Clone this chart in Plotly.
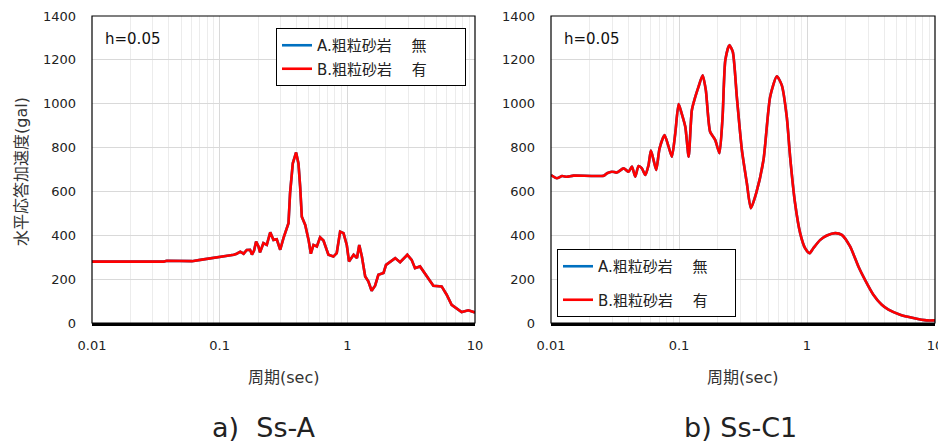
import plotly.graph_objects as go

# ---- data ----
period_ssa = [0.01, 0.0364, 0.0386, 0.0506, 0.0554, 0.0606, 0.0705, 0.0896, 0.101, 0.114, 0.129, 0.136,
              0.145, 0.154, 0.163, 0.173, 0.179, 0.186, 0.193, 0.201, 0.207, 0.220, 0.234, 0.249, 0.256,
              0.264, 0.280, 0.298, 0.316, 0.336, 0.346, 0.356, 0.374, 0.397, 0.414, 0.427, 0.440, 0.468,
              0.497, 0.518, 0.543, 0.577, 0.612, 0.650, 0.711, 0.778, 0.826, 0.878, 0.933, 0.990, 1.03,
              1.12, 1.19, 1.24, 1.30, 1.38, 1.46, 1.55, 1.65, 1.75, 1.92, 2.01, 2.23, 2.37, 2.59, 2.95,
              3.19, 3.39, 3.71, 4.19, 4.72, 5.48, 6.00, 6.56, 7.86, 8.87, 10.0]
acc_ssa = [280, 280, 284, 284, 281, 282, 288, 298, 300, 306, 311, 316,
           325, 316, 333, 334, 312, 330, 372, 350, 322, 364, 356, 414, 400,
           379, 382, 334, 387, 440, 455, 592, 728, 778, 728, 622, 485, 447,
           379, 316, 356, 349, 391, 376, 311, 303, 319, 417, 410, 356, 281,
           311, 296, 356, 303, 212, 190, 147, 170, 220, 228, 265, 284, 296, 277, 311,
           288, 250, 258, 212, 170, 167, 129, 83, 50, 58, 48]

period_ssc1 = [0.0100, 0.0111, 0.0122, 0.0133, 0.0150, 0.0258, 0.0274, 0.0299, 0.0327, 0.0369, 0.0404,
               0.0429, 0.0455, 0.0483, 0.0513, 0.0545, 0.0578, 0.0603, 0.0633, 0.0664, 0.0705, 0.0771,
               0.0829, 0.0880, 0.0935, 0.0993, 0.105, 0.112, 0.119, 0.126, 0.134, 0.142, 0.153, 0.162,
               0.175, 0.192, 0.207, 0.219, 0.230, 0.247, 0.263, 0.283, 0.310, 0.339, 0.364, 0.401, 0.457,
               0.515, 0.581, 0.635, 0.695, 0.738, 0.807, 0.884, 0.966, 1.045, 1.12, 1.27, 1.43, 1.66,
               1.87, 2.17, 2.52, 2.84, 3.30, 3.84, 4.33, 5.34, 6.78, 8.61, 10.0]
acc_ssc1 = [675, 660, 670, 667, 672, 672, 683, 690, 686, 705, 690,
            713, 667, 716, 705, 675, 720, 786, 743, 698, 796, 857,
            804, 758, 865, 998, 955, 895, 758, 970, 1031, 1077, 1130, 1062,
            872, 834, 774, 940, 1198, 1267, 1237, 1031, 789, 637, 523, 592, 743,
            1031, 1125, 1085, 940, 758, 546, 410, 341, 318, 341, 379, 399, 410,
            402, 349, 258, 197, 129, 83, 61, 38, 23, 12, 12]

series_names = ["A.粗粒砂岩\u3000 無", "B.粗粒砂岩\u3000 有"]
series_colors = ["#0070C0", "#FF0000"]
x_ticks = [0.01, 0.1, 1, 10]
x_tick_text = ["0.01", "0.1", "1", "10"]
y_ticks = [0, 200, 400, 600, 800, 1000, 1200, 1400]
panel_titles = ["a)  Ss-A", "b) Ss-C1"]
x_title = "周期(sec)"
y_title = "水平応答加速度(gal)"
damping_label = "h=0.05"

W, H = 938, 442
FONT = "DejaVu Sans, Noto Sans CJK JP"
BLANK = "\u2800"  # invisible, non-trimmed padding glyph for legend box width

fig = go.Figure()

panels = [(period_ssa, acc_ssa, "x", "y", "legend", "linear", BLANK * 3),
          (period_ssc1, acc_ssc1, "x2", "y2", "legend2", "spline", BLANK * 2)]
for (px, py, xa, ya, lg, shape, pad) in panels:
    for name, col in zip(series_names, series_colors):
        fig.add_trace(go.Scatter(
            x=px, y=py, mode="lines", name=name + pad, xaxis=xa, yaxis=ya, legend=lg,
            legendgroup=name + lg,
            line=dict(color=col, width=2.6, shape=shape, smoothing=0.6 if shape == "spline" else None),
        ))

dom1 = [92 / W, 475 / W]
dom2 = [551 / W, 935 / W]
ydom = [1 - 323 / H, 1 - 16 / H]

def xaxis(dom, anchor):
    return dict(type="log", domain=dom, range=[-2, 1], anchor=anchor, automargin=False,
                tickvals=x_ticks, ticktext=x_tick_text,
                showgrid=True, gridcolor="#d9d9d9", gridwidth=1,
                minor=dict(showgrid=True, gridcolor="#ececec", gridwidth=1, ticks="",
                           tickvals=[m * 10 ** e for e in (-2, -1, 0) for m in range(2, 10)]),
                showline=True, linecolor="black", linewidth=2.5,
                ticks="", tickfont=dict(family=FONT, size=13, color="#222"),
                ticklabelstandoff=9, ticklabeloverflow="allow", zeroline=False)

def yaxis(anchor):
    return dict(domain=ydom, range=[0, 1400], anchor=anchor, tickvals=y_ticks, automargin=False,
                showgrid=True, gridcolor="#d9d9d9", gridwidth=1,
                showline=False, ticks="", zeroline=False,
                tickfont=dict(family=FONT, size=13, color="#222"),
                ticklabelstandoff=15)

leg_common = dict(xanchor="left", yanchor="top", bgcolor="white", bordercolor="black",
                  borderwidth=1, font=dict(family=FONT, size=15, color="#222"), itemwidth=30)
fig.update_layout(
    width=W, height=H, margin=dict(l=0, r=0, t=0, b=0, autoexpand=False),
    paper_bgcolor="white", plot_bgcolor="white",
    xaxis=xaxis(dom1, "y"), yaxis=yaxis("x"),
    xaxis2=xaxis(dom2, "y2"), yaxis2=yaxis("x2"),
    legend=dict(x=276 / W, y=1 - 28 / H, tracegroupgap=1, **leg_common),
    legend2=dict(x=557 / W, y=1 - 249 / H, tracegroupgap=11, **leg_common),
    showlegend=True,
)

# plot-area borders
for dom in (dom1, dom2):
    fig.add_shape(type="rect", xref="paper", yref="paper",
                  x0=dom[0], x1=dom[1], y0=ydom[0], y1=ydom[1],
                  line=dict(color="black", width=1.2), layer="above")

def ann(text, x, y, size, color="#222", xanchor="center", angle=0):
    return dict(text=text, x=x / W, y=1 - y / H, xref="paper", yref="paper",
                xanchor=xanchor, yanchor="middle", textangle=angle, showarrow=False,
                font=dict(family=FONT, size=size, color=color))

anns = []
for dom, t, xc in ((dom1, panel_titles[0], 264), (dom2, panel_titles[1], 740)):
    anns.append(ann(t, xc, 427, 27))
    anns.append(ann(x_title, (dom[0] + dom[1]) / 2 * W, 377, 16, "#333"))
    anns.append(ann(damping_label, dom[0] * W + 11, 39, 15, "#111", xanchor="left"))
anns.append(ann(y_title, 22, 172, 16, "#333", angle=-90))
fig.update_layout(annotations=anns)

fig.write_html("out.html", config={"displayModeBar": False},
               post_script="document.body.style.margin='0';document.body.style.overflow='hidden';")
